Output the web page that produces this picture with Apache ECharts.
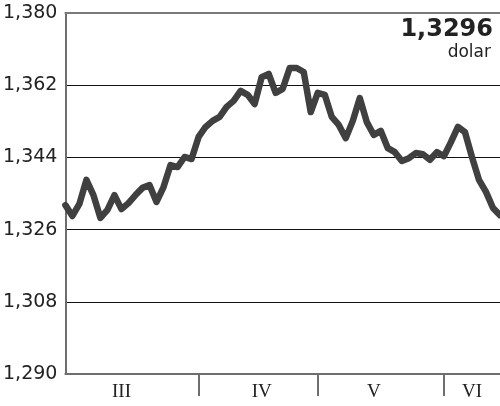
<!DOCTYPE html>
<html>
<head>
<meta charset="utf-8">
<style>
  html, body { margin: 0; padding: 0; background: #ffffff; }
  #chart { width: 500px; height: 406px; }
</style>
<script src="https://cdn.jsdelivr.net/npm/echarts@6/dist/echarts.min.js"></script>
</head>
<body>
<div id="chart"></div>
<script>
// ---- data ----
const values = [
  1.3321, 1.3294, 1.3324, 1.3384, 1.3346, 1.3289, 1.3309, 1.3346, 1.3311, 1.3326,
  1.3346, 1.3364, 1.3371, 1.3329, 1.3366, 1.3421, 1.3416, 1.3441, 1.3436, 1.3491,
  1.3516, 1.3531, 1.3541, 1.3566, 1.3581, 1.3606, 1.3596, 1.3573, 1.3640, 1.3648,
  1.3601, 1.3611, 1.3663, 1.3663, 1.3653, 1.3553, 1.3601, 1.3596, 1.3541, 1.3521,
  1.3488, 1.3531, 1.3588, 1.3528, 1.3496, 1.3506, 1.3463, 1.3453, 1.3431, 1.3438,
  1.3451, 1.3448, 1.3434, 1.3453, 1.3443, 1.3478, 1.3516, 1.3503, 1.3441, 1.3384,
  1.3354, 1.3314, 1.3296
];
const categories = values.map((_, i) => String(i + 1));
const monthLabels = ['III', 'IV', 'V', 'VI'];
const monthBoundaryIdx = [19, 36, 54];
const monthLabelIdx = [8, 28, 44, 58];
const yMin = 1.290, yMax = 1.380, yStep = 0.018;
const lastValueText = '1,3296';
const unitText = 'dolar';

const chart = echarts.init(document.getElementById('chart'), null, { renderer: 'canvas' });
chart.setOption({
  animation: false,
  backgroundColor: '#ffffff',
  grid: { left: 65, right: 0, top: 13, bottom: 32, containLabel: false },
  xAxis: [{
    type: 'category',
    data: categories,
    boundaryGap: false,
    axisLine: { show: true, lineStyle: { color: '#6e6e6e', width: 2 } },
    axisTick: {
      show: true,
      length: 22,
      interval: (idx) => monthBoundaryIdx.includes(idx),
      lineStyle: { color: '#6e6e6e', width: 2 }
    },
    axisLabel: {
      interval: (idx) => monthLabelIdx.includes(idx),
      formatter: (val, idx) => monthLabels[monthLabelIdx.indexOf(idx)] || '',
      margin: 9,
      fontFamily: 'Liberation Serif',
      fontSize: 19,
      color: '#222'
    },
    splitLine: { show: false }
  }, {
    type: 'category',
    position: 'top',
    data: categories,
    boundaryGap: false,
    axisLine: { show: true, lineStyle: { color: '#7a7a7a', width: 2 } },
    axisTick: { show: false },
    axisLabel: { show: false }
  }],
  yAxis: {
    type: 'value',
    min: yMin,
    max: yMax,
    interval: yStep,
    axisLine: { show: true, lineStyle: { color: '#6e6e6e', width: 2 } },
    axisTick: { show: false },
    axisLabel: {
      formatter: (v) => v.toFixed(3).replace('.', ','),
      margin: 8,
      fontFamily: 'DejaVu Sans',
      fontSize: 19,
      color: '#222'
    },
    splitLine: { show: true, lineStyle: { color: '#111', width: 1 } }
  },
  graphic: [
    { type: 'text', right: 7, top: 18, z: 100,
      style: { text: lastValueText, font: 'bold 24px "DejaVu Sans"', fill: '#222', textAlign: 'right' } },
    { type: 'text', right: 9, top: 44, z: 100,
      style: { text: unitText, font: '500 17px "DejaVu Sans"', fill: '#222', textAlign: 'right' } }
  ],
  series: [{
    type: 'line',
    data: values,
    symbol: 'none',
    smooth: false,
    z: 5,
    lineStyle: { color: '#404040', width: 6.5, join: 'round', cap: 'round' }
  }]
});
</script>
</body>
</html>
